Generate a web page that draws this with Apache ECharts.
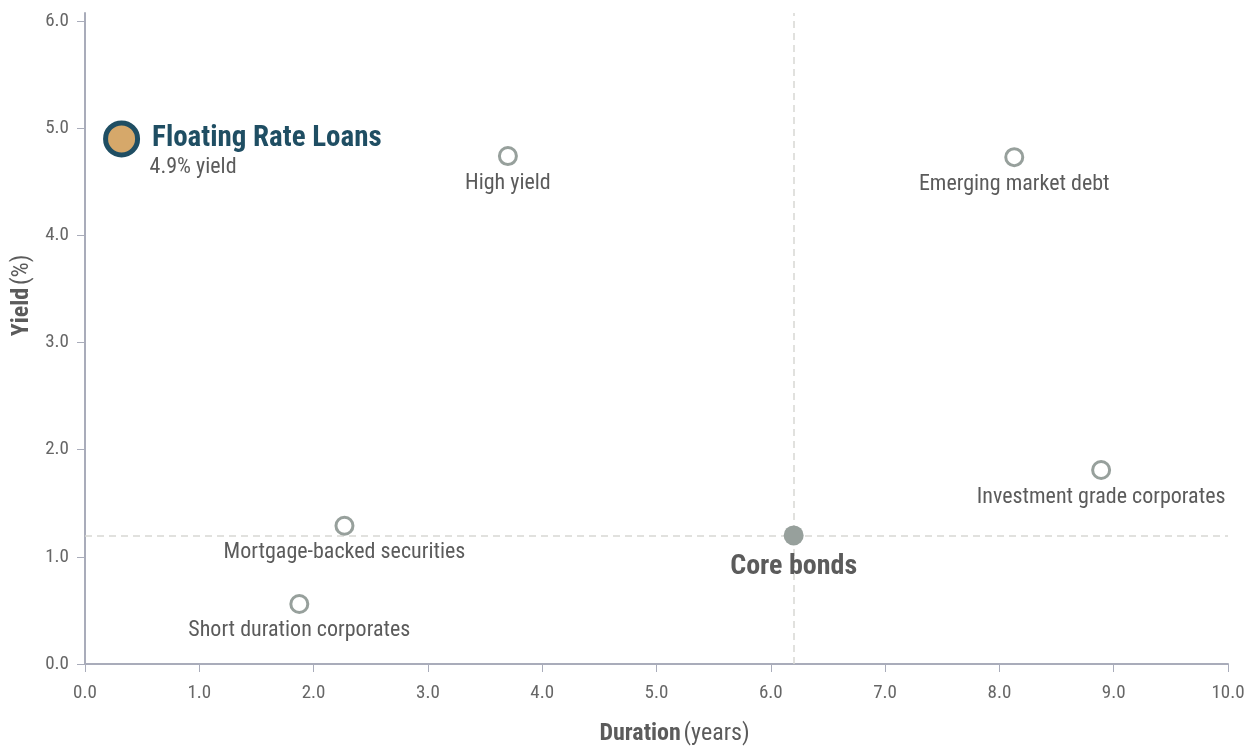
<!DOCTYPE html>
<html><head><meta charset="utf-8">
<script src="https://cdn.jsdelivr.net/npm/echarts@6/dist/echarts.min.js"></script>
<style>html,body{margin:0;padding:0;background:#fff}#c{width:1254px;height:749px}</style>
</head><body><div id="c"></div>
<script>
const FONT = '"Liberation Sans Narrow","Roboto Condensed","DejaVu Sans Condensed",Roboto,sans-serif';
const sectorNames = ['High yield','Emerging market debt','Investment grade corporates','Mortgage-backed securities','Short duration corporates'];
const sectorDuration = [3.70, 8.13, 8.89, 2.27, 1.875];
const sectorYield = [4.74, 4.73, 1.81, 1.29, 0.56];
const coreName = 'Core bonds';
const coreDuration = 6.2;
const coreYield = 1.2;
const focusName = 'Floating Rate Loans';
const focusDuration = 0.32;
const focusYield = 4.9;
const xTicks = [0,1,2,3,4,5,6,7,8,9,10];
const yTicks = [0,1,2,3,4,5,6];

const chart = echarts.init(document.getElementById('c'));
const axisColor = '#a9acba';
const labelGrey = '#5b5b5b';
chart.setOption({
  animation:false,
  textStyle:{fontFamily:FONT},
  grid:{left:85, right:26, top:13, bottom:85, outerBoundsMode:'none', containLabel:false},
  xAxis:{
    type:'value', min:xTicks[0], max:xTicks[xTicks.length-1], interval:1,
    axisLine:{lineStyle:{color:axisColor,width:2}},
    axisTick:{show:true,length:8,lineStyle:{color:axisColor,width:1}},
    axisLabel:{color:'#666',fontSize:19,fontFamily:FONT,margin:20,formatter:v=>v.toFixed(1)},
    splitLine:{show:false},
    name:'{b|Duration} {r|(years)}', nameLocation:'middle', nameGap:58,
    nameTextStyle:{padding:[0,0,0,36],rich:{b:{fontWeight:'bold',fontSize:24,color:labelGrey,fontFamily:FONT},r:{fontSize:24,color:labelGrey,fontFamily:FONT}}}
  },
  yAxis:{
    type:'value', min:yTicks[0], max:6.075, interval:1,
    axisLine:{show:true,lineStyle:{color:axisColor,width:2}},
    axisTick:{show:true,length:8,lineStyle:{color:axisColor,width:1}},
    axisLabel:{color:'#666',fontSize:19,fontFamily:FONT,margin:16,formatter:v=>v.toFixed(1),showMaxLabel:false},
    splitLine:{show:false},
    name:'{b|Yield} {r|(%)}', nameLocation:'middle', nameGap:50,
    nameTextStyle:{padding:[0,0,0,86],rich:{b:{fontWeight:'bold',fontSize:24,color:labelGrey,fontFamily:FONT},r:{fontSize:24,color:labelGrey,fontFamily:FONT}}}
  },
  series:[
    {
      type:'scatter', data:[], z:1, silent:true,
      markLine:{
        silent:true, symbol:'none', label:{show:false}, z:1,
        lineStyle:{color:'#d8d8d4',width:1.5,type:[7,5]},
        data:[{xAxis:coreDuration},{yAxis:coreYield}]
      }
    },
    {
      type:'scatter', symbol:'circle', symbolSize:17, z:3,
      itemStyle:{color:'#fff',borderColor:'#97a09c',borderWidth:3,opacity:1},
      label:{show:true,position:'bottom',distance:6,formatter:p=>p.data.name,color:labelGrey,fontSize:22,fontFamily:FONT},
      data:sectorNames.map((n,i)=>({name:n,value:[sectorDuration[i],sectorYield[i]]}))
    },
    {
      type:'scatter', symbol:'circle', symbolSize:20, z:4,
      itemStyle:{color:'#97a09c',opacity:1},
      label:{show:true,position:'bottom',distance:8,formatter:p=>p.data.name,color:labelGrey,fontSize:28,fontWeight:'bold',fontFamily:FONT},
      data:[{name:coreName,value:[coreDuration,coreYield]}]
    },
    {
      type:'scatter', symbol:'circle', symbolSize:32, z:5, silent:true,
      itemStyle:{color:'#ffffff',opacity:1,borderWidth:0},
      label:{show:true,position:[44,45],align:'left',verticalAlign:'middle',formatter:p=>p.data.value[1].toFixed(1)+'% yield',
        fontSize:22,color:labelGrey,opacity:1,fontFamily:FONT},
      data:[{name:focusName,value:[focusDuration,focusYield]}]
    },
    {
      type:'scatter', symbol:'circle', symbolSize:32, z:6,
      itemStyle:{color:'#d6a86a',borderColor:'#1f4e63',borderWidth:5,opacity:1},
      label:{show:true,position:'right',distance:12,formatter:p=>p.data.name,
        fontSize:29,fontWeight:'bold',color:'#1f4e63',fontFamily:FONT},
      data:[{name:focusName,value:[focusDuration,focusYield]}]
    }
  ]
});
</script></body></html>
